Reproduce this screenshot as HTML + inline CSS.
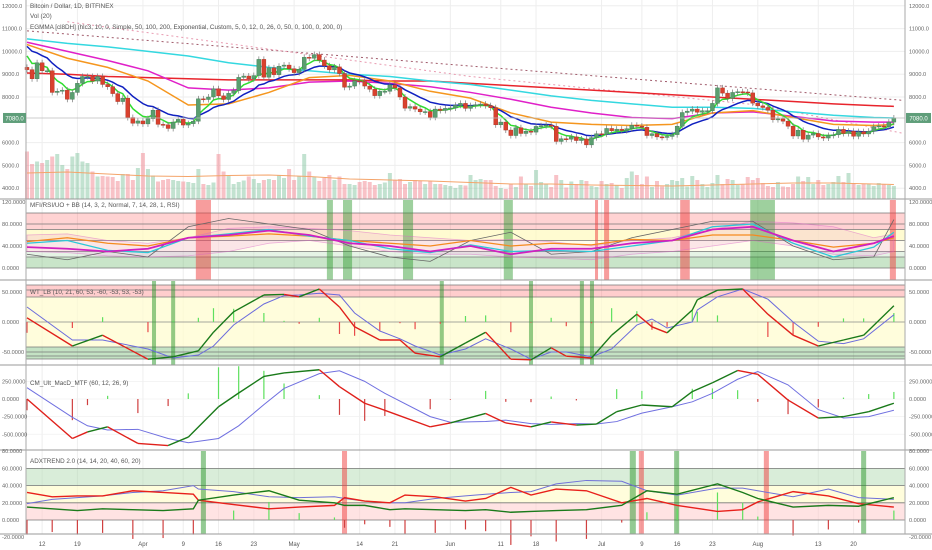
<!DOCTYPE html>
<html><head><meta charset="utf-8">
<style>
html,body{margin:0;padding:0;background:#fff;}
svg{display:block;font-family:"Liberation Sans",sans-serif;}
</style></head>
<body>
<svg id="c" width="932" height="550" viewBox="0 0 932 550" xmlns="http://www.w3.org/2000/svg"></svg>
<script>
// ---------- DATA ----------
const closes = [9200,8800,9500,9150,9150,8200,8250,8300,7900,8200,8600,8900,8900,8700,8900,8550,8450,8150,7800,7950,7100,6850,6950,
6820,7050,7420,6800,6780,6620,6900,7020,6770,6830,6940,7920,7890,8000,8360,8050,7890,8160,8280,8860,8920,8800,8940,9650,8870,9280,8980,9350,9400,9240,
9070,9220,9740,9700,9860,9620,9370,9190,9320,9030,8430,8480,8710,8680,8480,8340,8060,8250,8250,8530,8400,8000,7510,7580,7470,7350,7360,7110,7470,7410,7500,
7520,7640,7720,7500,7620,7660,7690,7620,7530,6780,6900,6550,6310,6650,6400,6500,6460,6710,6740,6770,6720,6050,6170,6150,6250,6090,6160,5900,6220,6390,
6370,6620,6520,6590,6530,6610,6760,6720,6670,6310,6390,6250,6230,6270,6350,6720,7320,7380,7470,7330,7400,7400,7720,8400,8170,7940,8200,8230,8220,8180,7730,
7610,7540,7420,7010,7040,6940,6720,6290,6540,6150,6330,6400,6250,6200,6310,6340,6580,6400,6500,6280,6480,6380,6500,6700,6730,6700,6900,7080];
const firstOpen = 9300;
const volumes = [95,70,75,72,78,85,90,68,60,85,92,75,72,55,45,46,45,44,36,50,50,38,62,92,60,47,35,38,40,38,
36,35,34,32,60,30,28,33,90,55,47,30,34,37,45,40,32,38,40,38,47,42,60,38,45,90,55,45,36,42,
48,38,45,30,30,28,34,36,34,28,30,33,52,38,40,30,34,38,36,30,35,30,30,28,26,22,28,27,48,38,
40,38,38,26,22,20,30,24,45,30,26,58,34,30,24,48,38,23,35,30,38,36,26,24,36,30,32,28,22,42,
55,48,30,45,24,36,25,30,38,36,42,25,46,38,30,24,32,48,30,40,38,28,30,44,38,42,32,26,24,34,
25,24,30,45,36,44,30,38,28,30,34,46,34,52,30,28,30,30,26,32,30,28,26];
const emaFastSeed = 10100;
const emaSlowSeed = 10400;
const maDays = [0,8,16,24,32,40,48,56,64,72,80,88,96,104,112,120,128,136,144,152,160,168,172];
const maCyan = [10550,10350,10200,10000,9800,9500,9300,9150,9000,8900,8700,8550,8300,8050,7850,7700,7550,7550,7500,7350,7200,7100,7080];
const maRed = [9050,9000,8900,8850,8800,8750,8750,8750,8750,8700,8700,8600,8500,8400,8300,8200,8100,8000,7900,7800,7700,7620,7590];
const maMagenta = [10400,10000,9600,9150,8400,8300,8400,8650,8700,8600,8450,8200,7900,7550,7300,7100,7050,7300,7350,7150,6950,6900,6900];
const maOrange = [10300,9700,9300,8700,7650,7700,8200,8850,8950,8700,8250,7950,7300,6900,6800,6750,6800,7300,7400,7100,6800,6750,6800];
const volMA = [52,54,50,46,45,47,48,45,40,38,36,33,30,30,28,27,26,28,30,32,32,30,29];
const trendDays = [0,174];
const trendVals = [10900,7850];
const bbDays = [8,88,145,174];
const bbVals = [11300,8900,7650,6400];

const mfiDays = [0,8,16,24,32,40,48,56,64,72,80,88,96,104,112,120,128,136,144,152,160,168,172];
const mfiCyan = [45,50,32,28,55,62,70,58,50,35,28,42,30,32,30,40,50,75,80,45,20,38,65];
const mfiMagenta = [38,35,30,35,55,60,68,60,45,40,30,40,25,35,35,45,50,70,75,50,30,45,58];
const mfiOrange = [48,55,45,40,55,58,62,58,50,45,40,50,40,45,42,52,50,60,60,50,38,45,55];
const mfiGray = [25,15,30,20,75,90,80,70,40,20,12,50,65,25,30,55,70,85,85,40,15,20,88];
const mfiBBUp = [60,62,50,45,55,72,75,72,68,60,55,50,52,48,40,50,55,70,85,82,75,55,62];
const mfiBBLo = [30,28,22,20,22,30,45,50,40,30,25,25,20,18,15,25,30,40,50,40,25,22,30];
const mfiRed = [[33.5,36.5],[112.7,113.3],[114.5,115.5],[129.6,131.5],[171.2,172.4]];
const mfiGreen = [[59.5,60.7],[62.7,64.5],[74.6,76.6],[94.6,96.4],[143.5,148.4]];

const wtDays = [0,9,15,24,29,34,37,41,47,51,54,58,62,65,70,74,77,82,87,91,96,100,104,107,112,116,121,124,127,132,133,137,142,147,152,157,162,166,172];
const wt1 = [7,-40,-22,-62,-58,-48,-17,17,45,46,42,55,25,-8,-30,-30,-52,-58,-35,-17,-62,-63,-43,-57,-60,-22,13,-8,-18,20,37,53,55,13,-22,-40,-30,-22,27];
const wt2 = [25,-30,-30,-45,-60,-55,-40,-5,30,44,45,48,45,15,-15,-28,-40,-55,-45,-28,-45,-62,-50,-50,-58,-45,-5,5,-10,0,20,42,55,38,0,-32,-36,-28,12];
const wtGreen = [[24.8,25.6],[28.6,29.4],[81.9,82.7],[99.6,100.4],[109.7,110.5],[111.7,112.5]];

const macdDays = [0,9,12,16,22,28,32,38,42,47,51,58,62,67,71,80,84,91,95,100,104,109,113,117,122,128,132,136,141,145,151,157,162,167,172];
const macdLine = [0,-560,-467,-395,-630,-660,-540,-110,85,320,370,415,175,-60,-160,-395,-340,-205,-340,-395,-325,-370,-355,-180,-85,-110,105,230,405,350,-15,-270,-250,-180,-60];
const macdSignal = [160,-260,-380,-440,-430,-560,-620,-560,-380,-80,150,360,400,250,80,-250,-330,-320,-300,-350,-360,-350,-355,-320,-200,-110,-40,80,280,390,200,-150,-270,-250,-160];

const adxDays = [0,5,10,15,21,27,33,34,41,48,54,61,63,67,72,75,81,87,91,96,100,105,111,118,123,129,137,142,145,152,159,165,172];
const diMinus = [32,27,28,28,34,32,30,23,18,13,15,17,26,22,20,29,27,22,25,38,29,36,34,20,25,17,10,12,21,33,28,19,15];
const diPlus = [15,13,11,13,12,11,13,23,29,34,23,20,17,17,12,13,12,11,12,9,10,11,12,17,34,30,42,32,25,15,17,16,26];
const adxLine = [19,24,26,28,32,34,40,36,33,27,26,27,25,22,20,20,25,28,30,32,33,42,46,45,34,29,37,37,34,27,36,26,24];
const adxGreen = [[34.5,35.5],[119.6,120.8],[128.4,129.4],[165.5,166.5]];
const adxRed = [[62.5,63.5],[121.4,122.4],[146.2,147.2]];

const dateLabels = ["12","19","Apr","9","16","23","May","14","21","Jun","11","18","Jul","9","16","23","Aug","13","20"];
const dateDays = [3,10,23,31,38,45,53,66,73,84,94,101,114,122,129,136,145,157,164];
const priceTicks = [12000,11000,10000,9000,8000,6000,5000,4000];
const mfiTicks = [120,80,40,0];
const wtTicks = [50,0,-50];
const macdTicks = [250,0,-250,-500];
const adxTicks = [80,60,40,20,0,-20];

// ---------- AXES ----------
const X = d => 27 + d*5.04;
const PY = p => 97 - (p-8000)*0.0228;
const VY = v => 199 - v*0.5;
const MY = v => 268 - v*0.55;
const WY = v => 322 - v*0.6;
const CY = v => 399 - v*0.0705;
const AY = v => 520 - v*0.86;
const L = 26, R = 905;

const svg = document.getElementById('c');
const NS = 'http://www.w3.org/2000/svg';
function mk(tag, attrs, parent){ const e=document.createElementNS(NS,tag); for(const k in attrs) e.setAttribute(k,attrs[k]); (parent||svg).appendChild(e); return e; }
function grp(name){ const g=mk('g',{});   return g; }

// grid
const gGrid = grp('grid');
dateDays.forEach(d=>{ const l=mk('line',{x1:X(d),x2:X(d),y1:0,y2:534,stroke:'#eeeeee','stroke-width':1},gGrid);

 });
priceTicks.forEach(p=>{ const l=mk('line',{x1:L,x2:R,y1:PY(p),y2:PY(p),stroke:'#eeeeee'},gGrid);

 });

function band(g,y1,y2,fill){ const r=mk('rect',{x:L,y:Math.min(y1,y2),width:R-L,height:Math.abs(y2-y1),fill:fill},g);

 }
function hline(g,y,col){ const l=mk('line',{x1:L,x2:R,y1:y,y2:y,stroke:col||'#888','stroke-width':0.8},g);

 }
function vbars(g,ranges,fill,y1,y2){ ranges.forEach(r=>{ const e=mk('rect',{x:X(r[0]),y:y1,width:Math.max(3,X(r[1])-X(r[0])),height:y2-y1,fill:fill},g);

 }); }
function poly(g,days,vals,yf,col,w,name,dash){ const pts=days.map((d,i)=>X(d)+','+yf(vals[i])).join(' ');
const p=mk('polyline',{points:pts,fill:'none',stroke:col,'stroke-width':w},g);
if(dash) p.setAttribute('stroke-dasharray',dash);

 return p; }
function twoTone(g,days,a,b,yf,name){ for(let i=1;i<days.length;i++){ const col=a[i]>=b[i]?'#1a7a1a':'#e0201b';
const s=mk('line',{x1:X(days[i-1]),y1:yf(a[i-1]),x2:X(days[i]),y2:yf(a[i]),stroke:col,'stroke-width':1.4},g);

 } }

// ---------- MAIN PANEL ----------
const gVol = grp('volume-panel');
closes.forEach((c,i)=>{ const o=i?closes[i-1]:firstOpen; const up=c>=o;
const r=mk('rect',{x:X(i)-2,y:VY(volumes[i]),width:4,height:volumes[i]*0.5,fill:up?'rgba(120,190,150,0.45)':'rgba(240,120,130,0.45)'},gVol);

 });
poly(gVol,maDays,volMA,VY,'#f4a46a',1,'volume-ma');

const gMA = grp('moving-averages');
poly(gMA,trendDays,trendVals,PY,'#a05a6a',1,'trend-line-dotted','2,3');
poly(gMA,bbDays,bbVals,PY,'#e89ab0',1,'lower-band-dotted','2,3');
poly(gMA,maDays,maRed,PY,'#e8242c',1.5,'sma-200');
poly(gMA,maDays,maCyan,PY,'#34d8e0',1.5,'ema-100');
poly(gMA,maDays,maMagenta,PY,'#e020c8',1.5,'ema-50');
poly(gMA,maDays,maOrange,PY,'#f5961e',1.5,'ema-26');
function ema(arr,alpha,seed){ const out=[]; let e=seed; arr.forEach(v=>{ e=e+alpha*(v-e); out.push(e); }); return out; }
const allDays = closes.map((_,i)=>i);
poly(gMA,allDays,ema(closes,0.15,emaSlowSeed),PY,'#1020c0',1.5,'ema-12');
poly(gMA,allDays,ema(closes,0.33,emaFastSeed),PY,'#30dd30',1.5,'ema-5');

const gC = grp('candles');
closes.forEach((c,i)=>{ const o=i?closes[i-1]:firstOpen; const up=c>=o; const col=up?'#5a9e6f':'#d9412e';
const top=PY(Math.max(o,c)), bot=PY(Math.min(o,c));
const w=mk('line',{x1:X(i),x2:X(i),y1:top-3,y2:bot+3,stroke:'#777','stroke-width':0.7},gC);


const b=mk('rect',{x:X(i)-2,y:top,width:4,height:Math.max(1,bot-top),fill:col,stroke:up?'#3d7a52':'#a8301f','stroke-width':0.4},gC);

 });
hline(gC,PY(closes[closes.length-1]),'#bbbbbb');

// ---------- MFI PANEL ----------
const gM = grp('mfi-rsi-panel');
band(gM,MY(100),MY(70),'rgba(255,80,80,0.25)');
band(gM,MY(70),MY(50),'rgba(255,250,190,0.7)');
band(gM,MY(50),MY(30),'rgba(255,252,220,0.5)');
band(gM,MY(30),MY(20),'rgba(190,225,190,0.4)');
band(gM,MY(20),MY(0),'rgba(60,160,60,0.28)');
[100,80,70,50,30,20,0].forEach(v=>hline(gM,MY(v),'#777'));
vbars(gM,mfiRed,'rgba(240,60,60,0.5)',200,280);
vbars(gM,mfiGreen,'rgba(40,150,40,0.45)',200,280);
{ const pts=mfiDays.map((d,i)=>X(d)+','+MY(mfiBBUp[i])).concat(mfiDays.slice().reverse().map((d,j)=>X(d)+','+MY(mfiBBLo[mfiDays.length-1-j]))).join(' ');
const p=mk('polygon',{points:pts,fill:'rgba(230,100,200,0.15)',stroke:'rgba(220,100,200,0.5)','stroke-width':0.7},gM);

 }
poly(gM,mfiDays,mfiGray,MY,'#666',0.8,'uo-line');
poly(gM,mfiDays,mfiOrange,MY,'#f58a1e',1.3,'mfi-line');
poly(gM,mfiDays,mfiCyan,MY,'#2cc8d8',1.3,'stoch-line');
poly(gM,mfiDays,mfiMagenta,MY,'#d020c0',1.8,'rsi-line');

// ---------- WT PANEL ----------
const gW = grp('wavetrend-panel');
band(gW,285,297,'rgba(255,90,90,0.3)');
band(gW,297,347,'rgba(255,252,205,0.7)');
band(gW,347,359,'rgba(60,160,60,0.3)');
[285,290,297,347,352,356,359].forEach(y=>hline(gW,y,'#777'));
hline(gW,WY(0),'#888');
vbars(gW,wtGreen,'rgba(40,150,40,0.5)',281,365);
wtDays.forEach((d,i)=>{ const h=wt1[i]-wt2[i];
const r=mk('rect',{x:X(d)-0.6,y:Math.min(WY(0),WY(h)),width:1.2,height:Math.abs(h*0.6),fill:h>=0?'#5ee05e':'#e84a4a'},gW);

 });
poly(gW,wtDays,wt2,WY,'#6b6bdc',1,'wt2-line');
twoTone(gW,wtDays,wt1,wt2,WY,'wt1-line');

// ---------- MACD PANEL ----------
const gD = grp('macd-panel');
macdTicks.forEach(v=>hline(gD,CY(v),'#f0f0f0'));
macdDays.forEach((d,i)=>{ const h=macdLine[i]-macdSignal[i];
const r=mk('rect',{x:X(d)-0.6,y:Math.min(CY(0),CY(h)),width:1.2,height:Math.abs(h*0.0705),fill:h>=0?'#5ee05e':'#d04040'},gD);

 });
poly(gD,macdDays,macdSignal,CY,'#7070e0',1,'macd-signal-line');
twoTone(gD,macdDays,macdLine,macdSignal,CY,'macd-line');

// ---------- ADX PANEL ----------
const gA = grp('adx-panel');
band(gA,AY(60),AY(40),'rgba(170,215,170,0.45)');
band(gA,AY(40),AY(20),'rgba(255,252,205,0.7)');
band(gA,AY(20),AY(0),'rgba(255,200,200,0.5)');
[60,40,20,0].forEach(v=>hline(gA,AY(v),'#777'));
vbars(gA,adxGreen,'rgba(40,150,40,0.5)',451,534);
vbars(gA,adxRed,'rgba(240,60,60,0.5)',451,534);
adxDays.forEach((d,i)=>{ const h=diPlus[i]-diMinus[i];
const r=mk('rect',{x:X(d)-0.6,y:Math.min(AY(0),AY(h)),width:1.2,height:Math.abs(h*0.86),fill:h>=0?'#5ee05e':'#d04040'},gA);

 });
poly(gA,adxDays,adxLine,AY,'#7070d8',1,'adx-line');
poly(gA,adxDays,diMinus,AY,'#e8201b',1.4,'di-minus-line');
poly(gA,adxDays,diPlus,AY,'#1a7a1a',1.4,'di-plus-line');

// ---------- FRAME & AXES ----------
const gF = grp('frame');
[199,280,365,450,534].forEach(y=>{ const l=mk('line',{x1:0,x2:932,y1:y,y2:y,stroke:'#999','stroke-width':1},gF);

 });
[L,R].forEach(x=>{ const l=mk('line',{x1:x,x2:x,y1:0,y2:534,stroke:'#aaa','stroke-width':1},gF);

 });
function label(txt,y,name){ [[2,'start'],[909,'start']].forEach(([x,a])=>{ const t=mk('text',{x:x,y:y+2,'font-size':5.6,fill:'#666','text-anchor':a},gF);
t.textContent=txt;

 }); }
priceTicks.forEach(p=>label(p.toFixed(1),PY(p),'price-tick'));
mfiTicks.forEach(v=>label(v.toFixed(4),MY(v),'mfi-tick'));
wtTicks.forEach(v=>label(v.toFixed(4),WY(v),'wt-tick'));
macdTicks.forEach(v=>label(v.toFixed(4),CY(v),'macd-tick'));
adxTicks.forEach(v=>label(v.toFixed(4),AY(v),'adx-tick'));
dateLabels.forEach((s,i)=>{ const t=mk('text',{x:X(dateDays[i]),y:546,'font-size':6,fill:'#555','text-anchor':'middle'},gF);
t.textContent=s;

 });
const lastP = closes[closes.length-1];
[[3,23],[906,25]].forEach(([x,w])=>{ const r=mk('rect',{x:x,y:PY(lastP)-5,width:w,height:10,fill:'#5f9e7a'},gF);


const t=mk('text',{x:x+w/2,y:PY(lastP)+2.5,'font-size':6,fill:'#fff','text-anchor':'middle'},gF);
t.textContent=lastP.toFixed(1);

 });

const titles = [["Bitcoin / Dollar, 1D, BITFINEX",8,'symbol-title'],["Vol (20)",18,'volume-title'],
["EGMMA [cl8DH] (hlc3, 10, 0, Simple, 50, 100, 200, Exponential, Custom, 5, 0, 12, 0, 26, 0, 50, 0, 100, 0, 200, 0)",29,'egmma-title'],
["MFI/RSI/UO + BB (14, 3, 2, Normal, 7, 14, 28, 1, RSI)",207,'mfi-title'],
["WT_LB (10, 21, 60, 53, -60, -53, 53, -53)",294,'wt-title'],
["CM_Ult_MacD_MTF (60, 12, 26, 9)",385,'macd-title'],
["ADXTREND 2.0 (14, 14, 20, 40, 60, 20)",463,'adx-title']];
titles.forEach(([s,y,n])=>{ const t=mk('text',{x:30,y:y,'font-size':6.3,fill:'#555'},gF);
t.textContent=s;

 });
</script>
</body></html>
